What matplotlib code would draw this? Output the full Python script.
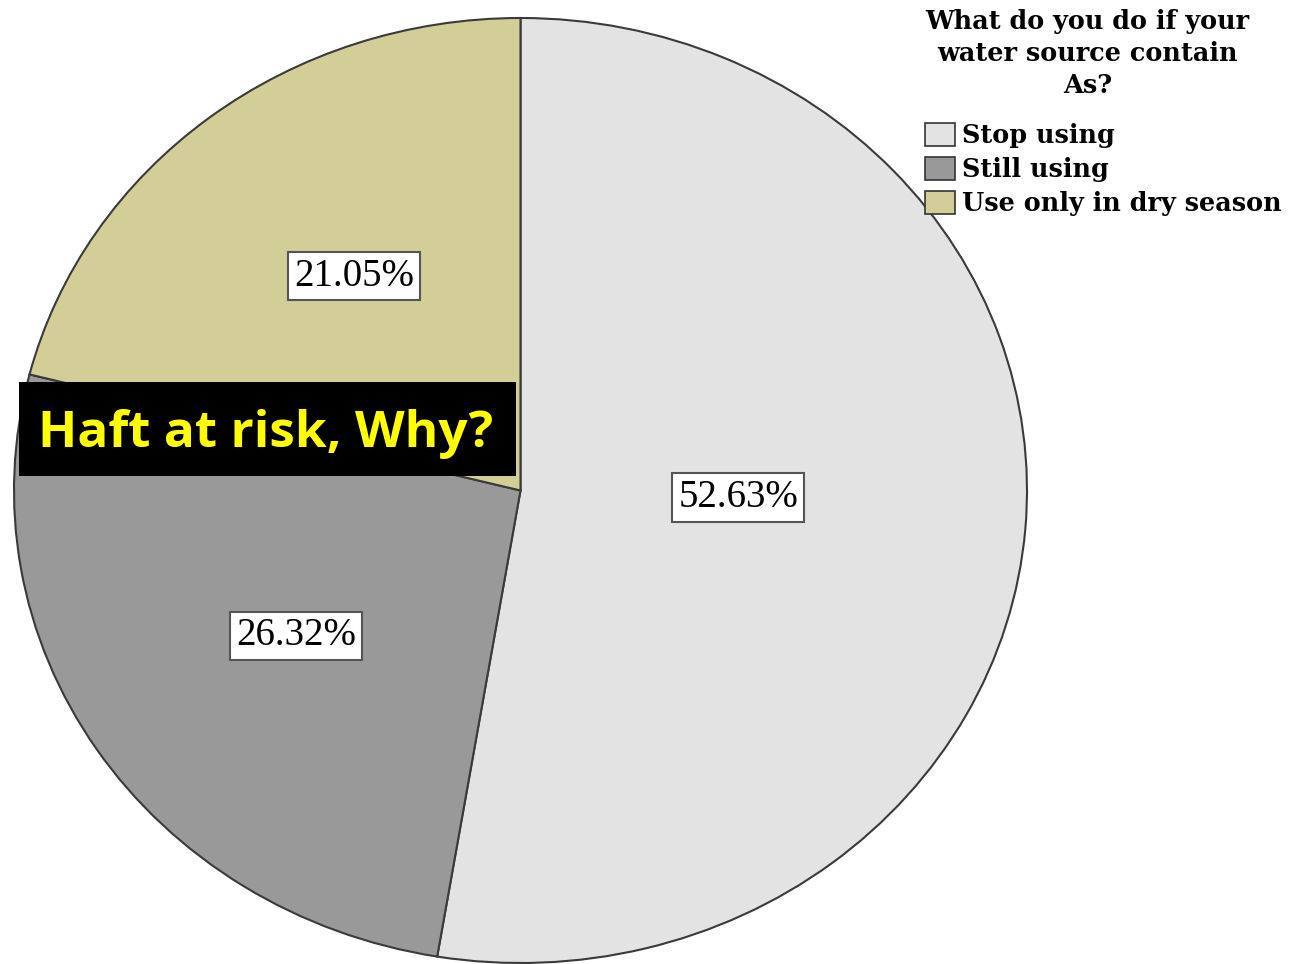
import numpy as np
import matplotlib.pyplot as plt
from matplotlib.patches import Rectangle, Patch

# ----------------------------
# Data
# ----------------------------
categories = ["Stop using", "Still using", "Use only in dry season"]
percentages = [52.63, 26.32, 21.05]
colors = ["#e3e3e3", "#999999", "#d3ce97"]
# SPSS puts each label at its own spot: distance from centre and angle nudge
label_radius = [0.43, 0.54, 0.56]
label_shift = [2.8, 1.6, -2.0]
legend_title = "What do you do if your\nwater source contain\nAs?"
callout = "Haft at risk, Why?"

fig = plt.figure(figsize=(12.91, 9.64), dpi=100)
W, H = 1291, 964
# ellipse spans x 14..1027, y 18..963 (pixels from top)
ax = fig.add_axes([14 / W, 1 / H, 1013 / W, 945 / H])

wedges, _ = ax.pie(percentages, colors=colors, startangle=90, counterclock=False,
                   wedgeprops=dict(edgecolor="#3a3a3a", linewidth=1.5))
ax.set_aspect("auto")
ax.set_xlim(-1, 1)
ax.set_ylim(-1, 1)
for w in wedges:
    w.set_clip_on(False)

# percentage labels in white boxes
for w, pct, r, s in zip(wedges, percentages, label_radius, label_shift):
    mid = np.deg2rad((w.theta1 + w.theta2) / 2 + s)
    ax.text(r * np.cos(mid), r * np.sin(mid), f"{pct:.2f}%",
            ha="center", va="center", fontsize=28, family="Liberation Serif",
            bbox=dict(boxstyle="square,pad=0.15", facecolor="white",
                      edgecolor="#555555", linewidth=1.5))

# legend
handles = [Patch(facecolor=c, edgecolor="#333333", linewidth=1.2) for c in colors]
leg = fig.legend(handles, categories, loc="upper right", bbox_to_anchor=(1.0, 1.0),
                 frameon=False, title=legend_title,
                 prop=dict(family="DejaVu Serif", weight="bold", size=18.4),
                 title_fontproperties=dict(family="DejaVu Serif", weight="bold", size=18.4),
                 handlelength=1.15, handleheight=1.0, handletextpad=0.3,
                 labelspacing=0.35, borderaxespad=0.2, borderpad=0.15)
leg._legend_box.align = "left"
leg._legend_box.sep = 18
leg.get_title().set_multialignment("center")
leg.get_title().set_linespacing(1.35)

# black callout box
fig.patches.append(Rectangle((19 / W, 1 - 476 / H), 497 / W, 94 / H,
                             transform=fig.transFigure, facecolor="black",
                             edgecolor="none", zorder=5))
fig.text(266 / W, 1 - 434 / H, callout, ha="center", va="center",
         color="#ffff00", fontsize=37, weight="bold", family="Open Sans", zorder=6)

fig.savefig("out.png", dpi=100)
